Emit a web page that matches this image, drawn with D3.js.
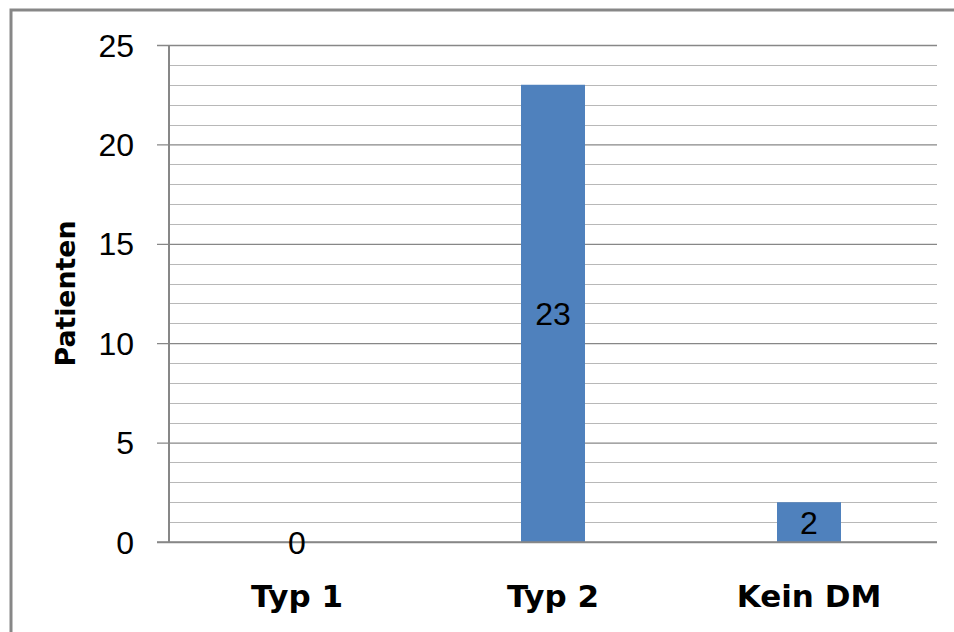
<!DOCTYPE html>
<html>
<head>
<meta charset="utf-8">
<script src="https://cdn.jsdelivr.net/npm/d3@7"></script>
<style>
  html, body { margin: 0; padding: 0; background: #fff; }
  svg { display: block; }
</style>
</head>
<body>
<svg id="chart" width="954" height="632"></svg>
<script>
// Patients by diabetes type
const categories = ["Typ 1", "Typ 2", "Kein DM"];
const patients = [0, 23, 2];
const yTicks = [0, 5, 10, 15, 20, 25];
const yTitle = "Patienten";

const W = 954, H = 632;
const margin = { left: 169, right: 17, top: 45, bottom: 90 };
const svg = d3.select("#chart");

// outer frame (top and left edges visible)
svg.append("rect")
  .attr("x", 11).attr("y", 10)
  .attr("width", W + 20).attr("height", H + 20)
  .attr("fill", "none").attr("stroke", "#878787").attr("stroke-width", 3);

const x = d3.scaleBand()
  .domain(categories)
  .range([margin.left, W - margin.right])
  .paddingInner(0.75)
  .paddingOuter(0.375);

const y = d3.scaleLinear()
  .domain([0, 25])
  .range([H - margin.bottom, margin.top]);

// minor gridlines at each unit
const minor = d3.range(1, 25).filter(v => v % 5 !== 0);
svg.append("g").selectAll("line").data(minor).join("line")
  .attr("x1", margin.left).attr("x2", W - margin.right)
  .attr("y1", d => Math.round(y(d)) + 0.5).attr("y2", d => Math.round(y(d)) + 0.5)
  .attr("stroke", "#b8b8b8").attr("stroke-width", 1.2);

// major gridlines with ticks through the axis
const yAxis = d3.axisLeft(y)
  .tickValues(yTicks)
  .tickSize(-(W - margin.right - margin.left))
  .tickFormat("");
const gy = svg.append("g")
  .attr("transform", `translate(${margin.left},0)`)
  .call(yAxis);
gy.select(".domain").remove();
gy.selectAll(".tick line")
  .attr("stroke", "#878787").attr("stroke-width", 1.3)
  .attr("x1", -12);

// tick labels
svg.append("g").selectAll("text").data(yTicks).join("text")
  .attr("x", 134)
  .attr("y", d => y(d))
  .attr("dy", "0.36em")
  .attr("text-anchor", "end")
  .attr("font-family", "Liberation Sans, Arial, sans-serif")
  .attr("font-size", 32)
  .attr("fill", "#000")
  .text(d => d);

// bars
svg.append("g").selectAll("rect").data(patients).join("rect")
  .attr("x", (d, i) => x(categories[i]))
  .attr("width", x.bandwidth())
  .attr("y", d => y(d))
  .attr("height", d => y(0) - y(d))
  .attr("fill", "#4f81bd");

// value axis line
svg.append("line")
  .attr("x1", margin.left).attr("x2", margin.left)
  .attr("y1", y(25)).attr("y2", y(0))
  .attr("stroke", "#878787").attr("stroke-width", 2);

// baseline
svg.append("line")
  .attr("x1", margin.left - 12).attr("x2", W - margin.right)
  .attr("y1", y(0)).attr("y2", y(0))
  .attr("stroke", "#878787").attr("stroke-width", 1.5);

// value labels centered in each bar
svg.append("g").selectAll("text").data(patients).join("text")
  .attr("x", (d, i) => x(categories[i]) + x.bandwidth() / 2)
  .attr("y", d => (y(d) + y(0)) / 2)
  .attr("dy", "0.36em")
  .attr("text-anchor", "middle")
  .attr("font-family", "Liberation Sans, Arial, sans-serif")
  .attr("font-size", 32)
  .attr("fill", "#000")
  .text(d => d);

// category labels
svg.append("g").selectAll("text").data(categories).join("text")
  .attr("x", d => x(d) + x.bandwidth() / 2)
  .attr("y", 607)
  .attr("text-anchor", "middle")
  .attr("font-family", "DejaVu Sans, sans-serif")
  .attr("font-weight", "bold")
  .attr("font-size", 31)
  .attr("fill", "#000")
  .text(d => d);

// value axis title
svg.append("text")
  .attr("transform", `translate(75,${(y(0) + y(25)) / 2}) rotate(-90)`)
  .attr("text-anchor", "middle")
  .attr("font-family", "DejaVu Sans, sans-serif")
  .attr("font-weight", "bold")
  .attr("font-size", 26)
  .attr("textLength", 146)
  .attr("lengthAdjust", "spacingAndGlyphs")
  .attr("fill", "#000")
  .text(yTitle);
</script>
</body>
</html>
